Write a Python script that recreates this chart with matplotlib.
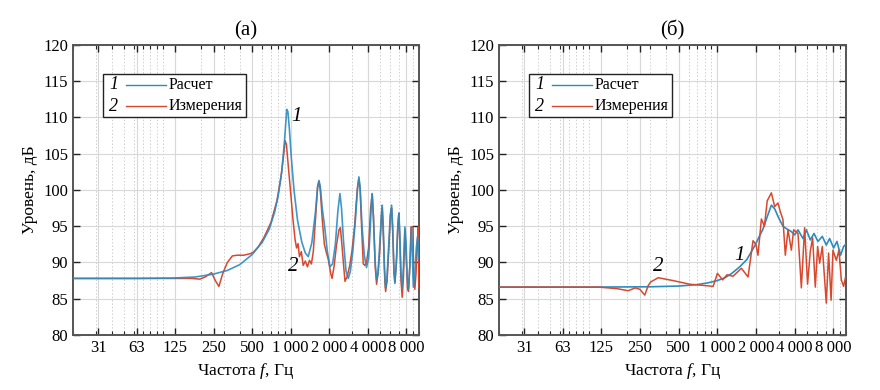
import matplotlib
matplotlib.use("Agg")
import matplotlib.pyplot as plt
from matplotlib.ticker import FixedLocator, LogLocator, NullFormatter, FixedFormatter
from matplotlib.patches import Rectangle

plt.rcParams['font.family'] = ['Liberation Serif', 'DejaVu Serif']
plt.rcParams['mathtext.fontset'] = 'custom'
plt.rcParams['mathtext.rm'] = 'Liberation Serif'
plt.rcParams['mathtext.it'] = 'Liberation Serif:italic'

# ---------------- data ----------------
tick_freqs = [31.5, 63, 125, 250, 500, 1000, 2000, 4000, 8000]
tick_labels = ['31', '63', '125', '250', '500', '1\u2009000', '2\u2009000', '4\u2009000', '8\u2009000']
y_ticks = [80, 85, 90, 95, 100, 105, 110, 115, 120]

a_calc_f = [20, 60, 120, 180, 250, 320, 400, 500, 600, 680, 750, 800, 850, 890, 915, 930, 950, 975,
            1010, 1060, 1130, 1220, 1300, 1369, 1460, 1560, 1620, 1660, 1700, 1760, 1840, 1930, 2023,
            2120, 2230, 2330, 2420, 2490, 2580, 2700, 2812, 2920, 3050, 3200, 3330, 3404, 3480, 3600,
            3750, 3900, 4050, 4180, 4280, 4324, 4420, 4560, 4676, 4800, 4950, 5100, 5175, 5260, 5380,
            5500, 5620, 5800, 5980, 6125, 6250, 6380, 6500, 6650, 6850, 6980, 7100, 7250, 7410, 7580,
            7780, 7950, 8100, 8300, 8500, 8770, 8900, 9050, 9300, 9550, 9770, 10000]
a_calc_db = [87.8, 87.8, 87.85, 88.0, 88.4, 88.9, 89.7, 91.1, 92.8, 94.6, 97.0, 99.3, 102.5, 106.3,
             109.3, 111.1, 110.8, 108.5, 104.5, 100.0, 95.8, 92.8, 91.3, 90.8, 92.7, 97.0, 100.5, 101.3,
             100.5, 97.5, 94.9, 91.5, 89.4, 89.8, 92.5, 97.0, 99.5, 97.5, 93.0, 88.8, 87.8, 88.8, 91.5,
             96.0, 100.5, 101.8, 100.3, 95.0, 91.0, 89.3, 90.5, 95.0, 98.8, 99.5, 96.0, 90.0, 87.6,
             88.5, 92.5, 96.5, 97.9, 95.5, 89.5, 86.5, 87.5, 92.0, 96.5, 97.9, 95.0, 89.0, 87.1, 89.5,
             95.0, 96.8, 94.0, 88.5, 86.5, 89.5, 94.9, 92.5, 88.0, 86.4, 89.5, 94.9, 91.0, 86.6, 88.5,
             92.0, 93.6, 90.5]

a_meas_f = [20, 100, 170, 195, 215, 241, 258, 275, 295, 320, 350, 380, 430, 480, 510, 560, 620, 700,
            780, 840, 880, 902, 925, 960, 1000, 1040, 1080, 1110, 1140, 1170, 1210, 1250, 1300, 1350,
            1400, 1450, 1500, 1560, 1620, 1660, 1700, 1760, 1830, 1900, 1960, 2050, 2100, 2180, 2280,
            2380, 2440, 2520, 2580, 2650, 2750, 2880, 3000, 3150, 3300, 3404, 3480, 3580, 3680, 3780,
            3900, 4050, 4200, 4324, 4420, 4560, 4676, 4800, 4950, 5100, 5175, 5300, 5420, 5500, 5650,
            5850, 6000, 6125, 6250, 6400, 6500, 6700, 6850, 6980, 7100, 7250, 7410, 7580, 7780, 7950,
            8150, 8300, 8500, 8680, 9000, 9100, 9300, 9500, 9700, 9900, 9960, 10000]
a_meas_db = [87.8, 87.8, 87.8, 87.7, 88.0, 88.6, 87.5, 86.7, 88.5, 90.0, 90.9, 91.0, 91.0, 91.2, 91.4,
             92.2, 93.5, 95.5, 98.5, 101.8, 104.8, 106.8, 106.3, 103.0, 99.5, 96.0, 93.2, 92.0, 92.6,
             90.8, 91.5, 89.6, 90.2, 89.4, 90.3, 89.8, 91.5, 96.0, 100.3, 101.2, 100.0, 96.0, 92.5,
             91.3, 90.5, 88.5, 87.8, 89.5, 92.5, 94.5, 94.8, 92.0, 89.8, 87.4, 88.0, 89.5, 91.5, 95.0,
             100.0, 101.5, 100.0, 94.5, 89.8, 89.6, 90.0, 92.0, 97.5, 99.3, 96.5, 89.5, 87.0, 88.5,
             91.5, 96.5, 97.5, 93.0, 87.5, 86.0, 87.5, 92.5, 96.5, 97.5, 94.0, 88.5, 87.3, 90.5, 95.0,
             96.8, 93.0, 87.5, 85.2, 88.0, 94.5, 91.0, 86.5, 86.0, 89.5, 94.9, 94.9, 88.0, 86.3, 88.5,
             92.5, 94.9, 90.0, 86.5]

b_calc_f = [20, 100, 300, 500, 700, 850, 1000, 1150, 1300, 1496, 1700, 1960, 2100, 2270, 2450, 2640,
            2800, 3000, 3250, 3500, 3750, 4008, 4254, 4650, 4943, 5308, 5665, 6083, 6577, 7064, 7497,
            8054, 8552, 9128, 9633, 10000]
b_calc_db = [86.6, 86.6, 86.65, 86.75, 86.95, 87.2, 87.5, 87.9, 88.5, 89.4, 90.4, 92.3, 93.4, 94.6,
             96.3, 97.9, 97.4, 96.2, 95.0, 94.6, 94.3, 93.8, 94.5, 93.3, 94.5, 93.1, 94.0, 92.9, 93.6,
             92.4, 93.3, 92.0, 92.9, 91.0, 92.2, 92.5]

b_meas_f = [20, 120, 165, 203, 230, 250, 273, 290, 303, 347, 454, 611, 824, 929, 1004, 1101, 1192,
            1328, 1543, 1738, 1900, 2000, 2076, 2207, 2330, 2450, 2640, 2800, 2970, 3100, 3250, 3390,
            3556, 3777, 3937, 4254, 4518, 4790, 5050, 5300, 5530, 5800, 6050, 6270, 6577, 7064, 7364,
            7700, 7960, 8454, 8862, 9250, 9633, 9980]
b_meas_db = [86.6, 86.6, 86.4, 86.1, 86.5, 86.3, 85.5, 86.8, 87.3, 87.9, 87.5, 87.0, 86.8, 86.7, 88.5,
             87.6, 88.3, 88.1, 89.2, 88.0, 93.0, 92.5, 91.0, 96.0, 95.0, 98.5, 99.6, 97.7, 98.2, 97.0,
             95.9, 91.0, 94.5, 91.7, 94.5, 94.0, 86.5, 94.8, 87.0, 91.5, 93.4, 86.6, 92.2, 89.9, 92.2,
             84.4, 91.3, 84.8, 91.7, 90.3, 91.7, 87.6, 86.7, 88.0]

legend_names = ['Расчет', 'Измерения']
panel_titles = ['(а)', '(б)']

BLUE = '#2c8cc0'
RED = '#d8482e'

fig = plt.figure(figsize=(8.8, 3.9), dpi=100)
ax_a = fig.add_axes([0.083, 0.141, 0.393, 0.744])
ax_b = fig.add_axes([0.567, 0.141, 0.394, 0.744])


def style(ax, title):
    ax.set_xscale('log')
    ax.set_xlim(20, 10000)
    ax.set_ylim(80, 120)
    ax.xaxis.set_major_locator(FixedLocator(tick_freqs))
    ax.xaxis.set_major_formatter(FixedFormatter(tick_labels))
    ax.xaxis.set_minor_locator(LogLocator(base=10, subs=range(1, 10), numticks=20))
    ax.xaxis.set_minor_formatter(NullFormatter())
    ax.yaxis.set_major_locator(FixedLocator(y_ticks))
    ax.grid(True, which='major', color='#d8d8d8', lw=0.8, ls='-')
    ax.grid(True, which='minor', axis='x', color='#cfcfcf', lw=0.7, ls=(0, (1.5, 2)))
    ax.set_axisbelow(True)
    ax.tick_params(which='both', direction='in', top=True, right=True, colors='#222222',
                   labelsize=12, labelcolor='black')
    ax.tick_params(which='major', length=5, width=1.0)
    ax.tick_params(which='minor', length=3, width=0.8)
    for s in ax.spines.values():
        s.set_color('#555555')
        s.set_linewidth(1.4)
    ax.set_title(title, fontsize=15, pad=7)
    ax.set_xlabel('Частота $\\it{f}$, Гц', fontsize=12.5, labelpad=4)
    ax.set_ylabel('Уровень, дБ', fontsize=12.5, labelpad=4)
    # legend box
    ax.add_patch(Rectangle((0.087, 0.752), 0.413, 0.148, transform=ax.transAxes,
                           facecolor='white', edgecolor='#222222', lw=1.0, zorder=5))
    for i, (c, name) in enumerate(zip([BLUE, RED], legend_names)):
        yy = 0.862 - i * 0.073
        ax.text(0.105, yy, str(i + 1), transform=ax.transAxes, fontsize=13, style='italic',
                va='center', ha='left', zorder=6)
        ax.plot([0.152, 0.268], [yy, yy], transform=ax.transAxes, color=c, lw=1.0, zorder=6)
        ax.text(0.276, yy, name, transform=ax.transAxes, fontsize=11.5, va='center', ha='left',
                zorder=6)


style(ax_a, panel_titles[0])
style(ax_b, panel_titles[1])

ax_a.plot(a_meas_f, a_meas_db, color=RED, lw=1.1, zorder=3)
ax_a.plot(a_calc_f, a_calc_db, color=BLUE, lw=1.2, zorder=3.5, alpha=0.9)
ax_a.text(1112, 110.1, '1', fontsize=15, style='italic', ha='center', va='center')
ax_a.text(1047, 89.5, '2', fontsize=15, style='italic', ha='center', va='center')

ax_b.plot(b_calc_f, b_calc_db, color=BLUE, lw=1.2, zorder=3)
ax_b.plot(b_meas_f, b_meas_db, color=RED, lw=1.1, zorder=3.5)
ax_b.text(1496, 91.0, '1', fontsize=15, style='italic', ha='center', va='center')
ax_b.text(347, 89.4, '2', fontsize=15, style='italic', ha='center', va='center')

fig.savefig('out.png', dpi=100)
